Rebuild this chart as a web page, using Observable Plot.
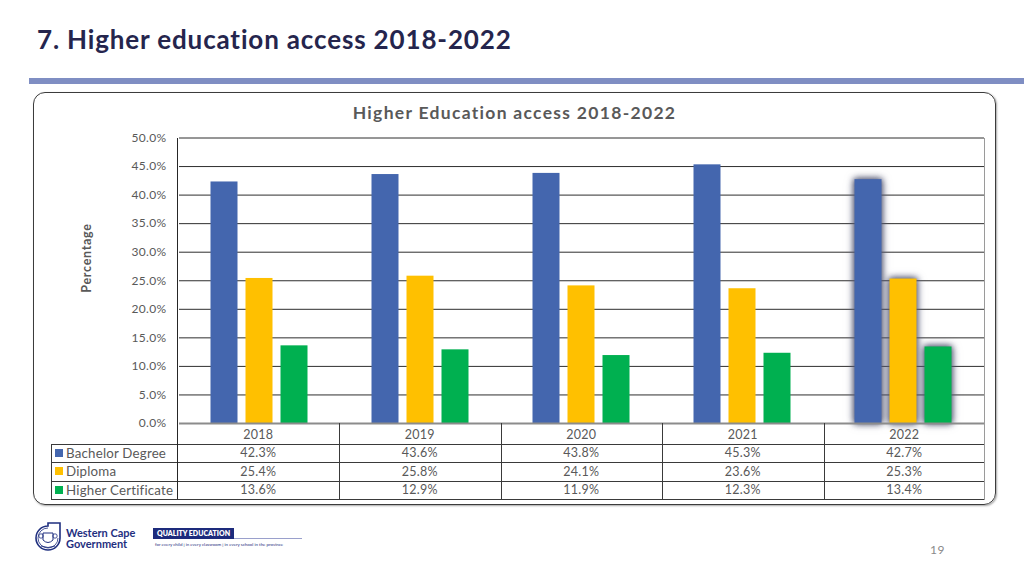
<!DOCTYPE html>
<html>
<head>
<meta charset="utf-8">
<script src="https://cdn.jsdelivr.net/npm/d3@7"></script>
<script src="https://cdn.jsdelivr.net/npm/@observablehq/plot@0.6"></script>
<style>
  html, body { margin: 0; padding: 0; background: #fff; }
  #page { position: relative; width: 1024px; height: 576px; overflow: hidden; background: #fff; font-family: Lato, "Open Sans", sans-serif; font-variant-ligatures: none; }
  .abs { position: absolute; }
  #title { left: 37px; top: 26px; font-size: 26px; font-weight: 700; color: #25254d; line-height: 1; white-space: nowrap; letter-spacing: 0.85px; }
  #stripe { left: 29px; top: 78px; width: 995px; height: 6px; background: #7f8ec3; }
  #frame { left: 33px; top: 92px; width: 961px; height: 411px; border: 1px solid #3c3c3c; border-radius: 12px; box-shadow: 1px 1px 2px rgba(0,0,0,0.35); }
  #ctitle { left: 33px; width: 963px; top: 104px; text-align: center; font-size: 17.5px; font-weight: 700; color: #595959; line-height: 1; letter-spacing: 1.3px; }
  #ylab { left: 87px; top: 258px; transform: translate(-50%, -50%) rotate(-90deg); font-size: 12.5px; font-weight: 700; color: #595959; white-space: nowrap; letter-spacing: 0.7px; line-height: 1; }
  #chart { left: 0; top: 0; }
  .cell { position: absolute; display: flex; align-items: center; color: #595959; font-size: 12.5px; white-space: nowrap; letter-spacing: 0.3px; }
  .num { justify-content: center; }
  .lab { justify-content: flex-start; font-size: 13.3px; letter-spacing: 0.2px; }
  .sq { display: inline-block; width: 8px; height: 8px; margin: 0 3px 0 4px; }
  #pnum { left: 930px; top: 542px; font-size: 12px; color: #8a8a8a; letter-spacing: 0.5px; }
  #wcg1 { left: 66px; top: 527px; font-size: 11px; font-weight: 700; color: #1f2f7f; line-height: 11px; }
  #qe { left: 153px; top: 528px; width: 81px; height: 11px; background: #1d2b7c; color: #fff; font-size: 7px; font-weight: 800; line-height: 11px; text-align: center; white-space: nowrap; }
  #qeline { left: 234px; top: 538px; width: 68px; height: 1px; background: #9aa0cc; }
  #tag { left: 155px; top: 542px; font-size: 4.4px; line-height: 5px; color: #1d2b7c; white-space: nowrap; }
</style>
</head>
<body>
<div id="page">
  <div id="title" class="abs">7. Higher education access 2018-2022</div>
  <div id="stripe" class="abs"></div>
  <div id="frame" class="abs"></div>
  <div id="ctitle" class="abs">Higher Education access 2018-2022</div>
  <div id="ylab" class="abs">Percentage</div>
  <div id="chart" class="abs"></div>
  <div id="table" class="abs" style="left:0;top:0;width:1024px;height:576px;"></div>
  <svg class="abs" style="left:33px;top:521px" width="30" height="32" viewBox="0 0 30 32">
    <path d="M15 2 H27 V17 A12 12 0 1 1 15 5 Z" fill="none" stroke="#1f2f7f" stroke-width="1.6"/>
    <path d="M15 7 A10 10 0 1 0 25 17" fill="none" stroke="#1f2f7f" stroke-width="0.8"/>
    <path d="M10 12 h10 v7 q-5 5 -10 0 z" fill="none" stroke="#1f2f7f" stroke-width="1"/>
    <circle cx="8" cy="15" r="2.2" fill="none" stroke="#1f2f7f" stroke-width="0.8"/>
    <circle cx="22" cy="15" r="2.2" fill="none" stroke="#1f2f7f" stroke-width="0.8"/>
    <path d="M8 25 q7 3 14 0" fill="none" stroke="#1f2f7f" stroke-width="0.9"/>
  </svg>
  <div id="wcg1" class="abs">Western Cape<br>Government</div>
  <div id="qe" class="abs">QUALITY EDUCATION</div>
  <div id="qeline" class="abs"></div>
  <div id="tag" class="abs">for every child | in every classroom | in every school in the province</div>
  <div id="pnum" class="abs">19</div>
</div>
<script>
// ---- data ----
const years = ["2018", "2019", "2020", "2021", "2022"];
const seriesNames = ["Bachelor Degree", "Diploma", "Higher Certificate"];
const bachelor = [42.3, 43.6, 43.8, 45.3, 42.7];
const diploma = [25.4, 25.8, 24.1, 23.6, 25.3];
const higherCert = [13.6, 12.9, 11.9, 12.3, 13.4];
const yTicks = [0, 5, 10, 15, 20, 25, 30, 35, 40, 45, 50];
const colors = ["#4466ae", "#ffc000", "#00b050"];
const highlightYear = "2022";

const seriesValues = [bachelor, diploma, higherCert];
const data = [];
seriesNames.forEach((s, i) => years.forEach((y, j) => data.push({year: y, series: s, value: seriesValues[i][j]})));

// ---- layout ----
const W = 1024, H = 440;
const L = 177.5, R = 985, T = 137.5, B = 423;
const fmt = d => d.toFixed(1) + "%";
const glow = "drop-shadow(0 0 3px rgba(85,88,115,0.85))";

const plot = Plot.plot({
  width: W, height: H,
  marginLeft: L, marginRight: W - R, marginTop: T, marginBottom: H - B,
  style: {background: "transparent", fontFamily: "Lato, 'Open Sans', sans-serif", fontSize: "12px", color: "#595959", overflow: "visible", letterSpacing: "0.35px"},
  fx: {domain: years, padding: 0, axis: null, label: null},
  x: {domain: seriesNames, paddingInner: 0.222, paddingOuter: 0.856, axis: null},
  y: {domain: [0, 50], ticks: yTicks, tickSize: 0, tickPadding: 13, tickFormat: fmt, label: null},
  color: {domain: seriesNames, range: colors},
  marks: [
    Plot.ruleY(yTicks.filter(t => t > 0), {stroke: "#2e2e2e", strokeWidth: 1}),
    Plot.barY(data.filter(d => d.year !== highlightYear), {fx: "year", x: "series", y: "value", fill: "series"}),
    Plot.barY(data.filter(d => d.year === highlightYear), {fx: "year", x: "series", y: "value", fill: "series", ariaDescription: "highlight", imageFilter: glow}),
    Plot.ruleY([0], {stroke: "#8c8c8c", strokeWidth: 2})
  ]
});
document.getElementById("chart").appendChild(plot);
// glow on highlighted bars (fallback if imageFilter is unsupported)
d3.select(plot).selectAll('[aria-description="highlight"] rect').style("filter", glow);

// ---- data table (HTML) ----
const tbl = document.getElementById("table");
const colW = (R - L) / years.length;
const rowY = [423, 443.5, 462, 480.5, 499];
const tableLeft = 51;
function line(x, y, w, h, c) {
  const d = document.createElement("div");
  d.className = "abs";
  Object.assign(d.style, {left: x + "px", top: y + "px", width: w + "px", height: h + "px", background: c});
  tbl.appendChild(d);
}
function cell(x, y, w, h, cls, html) {
  const d = document.createElement("div");
  d.className = "cell " + cls;
  Object.assign(d.style, {left: x + "px", top: y + "px", width: w + "px", height: h + "px"});
  d.innerHTML = html;
  tbl.appendChild(d);
}
years.forEach((y, j) => cell(L + j * colW, rowY[0] + 1, colW, rowY[1] - rowY[0], "num", y));
seriesNames.forEach((s, i) => {
  cell(tableLeft, rowY[i + 1], L - tableLeft, rowY[i + 2] - rowY[i + 1], "lab",
       `<span class="sq" style="background:${colors[i]}"></span>${s}`);
  years.forEach((y, j) => cell(L + j * colW, rowY[i + 1], colW, rowY[i + 2] - rowY[i + 1], "num", fmt(seriesValues[i][j])));
});
for (let k = 1; k < rowY.length; k++) line(tableLeft, Math.round(rowY[k]), R - tableLeft, 1, "#3a3a3a");
line(tableLeft, Math.round(rowY[1]), 1, rowY[4] - rowY[1], "#3a3a3a");
line(Math.round(L) - 1, T, 1.2, rowY[4] - T, "#262626");
for (let j = 1; j < years.length; j++) line(Math.round(L + j * colW), rowY[0], 1, rowY[4] - rowY[0], "#3a3a3a");
line(R - 1, T, 1.2, rowY[4] - T + 1, "#9a9a9a");
</script>
</body>
</html>
